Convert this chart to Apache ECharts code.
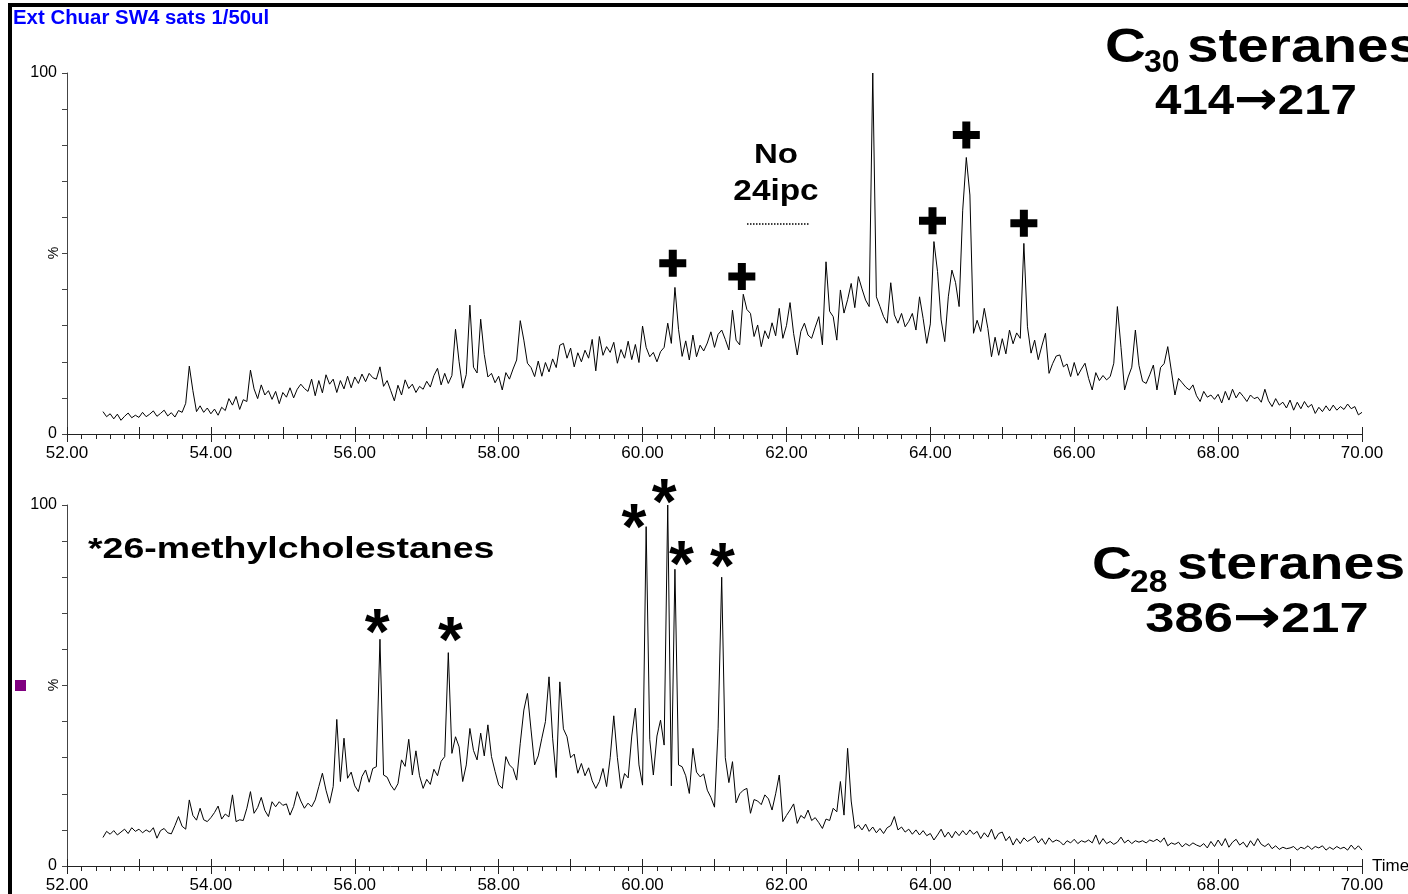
<!DOCTYPE html>
<html>
<head>
<meta charset="utf-8">
<title>Ext Chuar SW4 sats - steranes</title>
<script src="https://cdn.jsdelivr.net/npm/echarts@6/dist/echarts.min.js"></script>
<style>
  html, body { margin: 0; padding: 0; background: #fff; }
  #main { width: 1408px; height: 894px; }
</style>
</head>
<body>
<div id="main"></div>
<script>
// scans every 0.05 min, 52.50 -> 70.00
const timeStart = 52.5;
const timeStep = 0.05;
const timeTicks = [52, 54, 56, 58, 60, 62, 64, 66, 68, 70];
const pctTicks = [0, 100];

// C30 steranes 414->217 (% of base peak)
const c30Values = [
  6.2, 4.8, 5.6, 4.2, 5.5, 3.8, 4.9, 5.8, 4.5, 5.2,
  4.6, 6.0, 4.8, 5.5, 6.4, 4.9, 5.7, 6.6, 5.0, 5.9, 4.7, 6.5, 6.0, 8.5, 18.8, 12.0, 6.2, 7.8, 6.0, 7.2,
  5.6, 6.9, 5.2, 7.4, 6.5, 9.8, 8.0, 10.4, 6.8, 9.5, 9.0, 17.7, 12.5, 9.8, 13.6, 10.8, 12.0, 9.6, 11.8, 8.4,
  11.5, 10.2, 12.8, 10.0, 12.4, 13.8, 12.6, 11.8, 15.2, 10.6, 14.8, 11.4, 16.4, 13.8, 15.2, 11.5, 14.8, 12.5, 16.0, 12.8,
  15.8, 14.0, 16.6, 14.5, 16.8, 15.6, 15.2, 18.6, 13.2, 14.8, 12.0, 9.2, 13.5, 10.8, 15.0, 12.6, 13.8, 11.5, 13.2, 12.4,
  14.6, 13.0, 16.2, 18.2, 13.6, 16.8, 14.0, 16.2, 29.0, 20.0, 12.7, 16.5, 35.7, 18.5, 16.9, 31.8, 22.0, 15.8, 16.8, 14.2,
  16.0, 12.2, 17.0, 15.2, 18.0, 20.5, 31.4, 26.0, 19.6, 18.4, 15.9, 20.2, 16.0, 19.8, 17.2, 20.8, 18.4, 24.6, 25.1, 21.0,
  23.8, 18.6, 22.5, 20.0, 23.2, 21.0, 26.2, 17.5, 27.0, 21.8, 24.2, 22.6, 25.4, 19.6, 23.4, 21.0, 25.7, 20.6, 24.8, 19.8,
  29.9, 24.0, 21.4, 22.6, 20.0, 22.8, 24.0, 30.7, 25.1, 40.6, 29.0, 21.5, 25.8, 20.5, 27.4, 21.4, 24.6, 23.0, 25.2, 28.3,
  24.0, 27.6, 28.8, 26.2, 23.3, 34.3, 26.0, 24.7, 38.7, 34.5, 33.4, 27.0, 30.2, 24.2, 28.6, 26.4, 30.8, 27.2, 34.8, 26.5,
  30.0, 36.4, 27.8, 21.9, 28.4, 30.7, 27.4, 26.5, 29.6, 32.5, 24.7, 47.7, 34.0, 32.5, 26.0, 39.9, 33.5, 37.2, 41.7, 35.0,
  43.6, 40.2, 37.1, 35.3, 100, 38.0, 35.3, 32.5, 30.7, 41.9, 33.0, 30.7, 33.4, 29.7, 31.2, 33.4, 28.8, 38.0, 32.0, 25.1,
  30.5, 53.3, 45.0, 31.6, 25.6, 38.0, 45.4, 42.0, 35.3, 62.0, 76.6, 66.2, 27.9, 31.5, 28.4, 34.8, 29.2, 21.4, 26.8, 21.8,
  26.4, 22.2, 28.8, 25.0, 28.0, 26.5, 52.8, 29.7, 22.4, 26.0, 20.6, 24.4, 27.9, 16.8, 19.5, 21.6, 21.9, 18.6, 19.4, 15.9,
  19.8, 16.2, 18.0, 19.6, 15.4, 12.2, 17.0, 14.8, 16.2, 15.0, 15.9, 19.6, 35.3, 24.0, 12.2, 15.8, 18.5, 28.8, 19.0, 14.6,
  14.0, 16.4, 19.1, 12.2, 18.4, 19.5, 24.2, 17.5, 10.8, 15.4, 14.2, 13.0, 12.2, 13.6, 10.6, 9.0, 11.8, 10.2, 10.8, 9.6,
  11.0, 8.6, 11.8, 9.4, 12.4, 10.0, 11.6, 10.4, 9.0, 10.8, 9.8, 10.2, 8.8, 12.4, 9.2, 7.6, 9.8, 8.0, 8.8, 7.2,
  9.4, 6.6, 8.8, 7.0, 9.0, 7.4, 8.2, 5.7, 7.4, 6.2, 7.8, 6.4, 8.0, 6.6, 7.6, 6.8, 8.3, 7.0, 7.6, 5.3,
  6.0
];

// C28 steranes 386->217 (% of base peak)
const c28Values = [
  7.9, 9.6, 8.8, 9.8, 8.6, 9.4, 10.2, 9.0, 10.6, 9.6,
  10.2, 9.2, 10.0, 9.4, 10.6, 7.7, 9.8, 10.4, 9.2, 8.9, 11.2, 13.7, 11.0, 10.2, 18.3, 14.0, 12.7, 16.0, 12.8, 12.3,
  13.4, 14.8, 16.6, 13.0, 14.4, 13.6, 19.7, 12.3, 12.8, 12.6, 16.0, 20.6, 14.6, 16.2, 19.0, 15.4, 13.7, 17.8, 16.4, 17.8,
  16.8, 17.2, 14.1, 16.5, 20.6, 18.0, 16.0, 17.4, 16.4, 18.3, 22.0, 25.7, 21.0, 17.4, 22.0, 40.6, 23.4, 35.4, 24.3, 26.0,
  22.2, 20.6, 24.8, 26.6, 23.2, 27.0, 27.5, 62.8, 25.2, 24.6, 22.4, 21.0, 22.8, 29.4, 27.6, 35.1, 25.2, 31.9, 25.0, 21.5,
  24.0, 22.6, 26.8, 25.0, 29.0, 30.3, 59.1, 31.2, 35.8, 33.0, 23.4, 28.0, 38.1, 32.0, 29.4, 36.8, 30.5, 39.1, 30.3, 26.2,
  22.5, 21.5, 30.3, 28.0, 27.0, 23.8, 34.0, 43.2, 47.8, 37.7, 28.0, 30.5, 35.4, 40.0, 52.4, 35.4, 24.5, 51.0, 38.0, 35.8,
  30.0, 31.0, 25.7, 28.4, 25.0, 27.2, 23.6, 21.5, 23.4, 27.0, 22.0, 30.0, 41.6, 30.0, 21.5, 25.6, 24.4, 36.0, 43.7, 28.0,
  22.4, 94.0, 35.0, 25.2, 36.0, 40.4, 33.5, 100, 22.2, 82.2, 28.0, 27.5, 25.0, 20.1, 32.6, 26.0, 24.7, 25.5, 21.0, 19.0,
  16.3, 38.0, 80.0, 30.0, 23.1, 28.9, 17.5, 20.0, 21.0, 21.5, 14.6, 18.4, 18.0, 17.0, 19.7, 18.6, 15.5, 20.0, 25.2, 12.3,
  14.0, 15.5, 17.2, 11.8, 14.0, 13.2, 15.5, 12.6, 13.4, 12.0, 10.4, 13.0, 12.6, 16.0, 15.0, 23.4, 14.1, 32.6, 18.0, 10.4,
  11.4, 10.0, 11.6, 9.6, 10.8, 9.2, 10.4, 9.0, 10.6, 11.2, 13.7, 10.0, 10.8, 9.4, 10.2, 8.8, 10.0, 8.6, 9.8, 8.4,
  9.0, 7.2, 8.6, 10.2, 8.0, 9.4, 7.8, 9.6, 8.4, 9.8, 8.6, 10.0, 8.8, 9.6, 7.6, 9.2, 8.0, 10.2, 7.4, 9.0,
  9.4, 7.0, 8.2, 5.8, 7.6, 6.2, 7.8, 6.8, 7.4, 8.2, 6.4, 7.6, 6.0, 7.8, 6.6, 7.2, 6.8, 5.8, 7.0, 6.4,
  7.4, 6.2, 7.0, 6.6, 7.2, 6.4, 8.6, 6.0, 7.6, 6.2, 6.8, 6.0, 6.6, 8.0, 6.4, 7.2, 6.2, 7.0, 6.6, 7.0,
  6.4, 7.2, 6.8, 7.4, 6.6, 7.8, 5.6, 6.4, 6.0, 6.6, 5.3, 6.2, 5.6, 6.4, 5.8, 5.4, 6.2, 5.0, 6.8, 5.4,
  7.2, 5.6, 7.6, 5.2, 6.6, 7.4, 5.8, 6.6, 5.2, 7.0, 5.6, 7.6, 6.0, 5.4, 6.2, 4.8, 5.6, 4.6, 5.2, 4.8,
  5.0, 5.4, 4.4, 5.2, 4.8, 5.6, 4.6, 5.4, 5.0, 5.6, 4.4, 5.2, 4.6, 5.4, 4.8, 5.2, 4.4, 5.8, 4.6, 5.6,
  4.4
];

// annotation anchors [time, %]
const plusMarks = [[60.42, 47.3], [61.38, 43.6], [64.03, 59.1], [64.50, 82.8], [65.30, 58.4]];
const starMarks = [[56.31, 67.3], [57.33, 65.2], [59.88, 96.4], [60.30, 103.3], [60.54, 86.3], [61.11, 85.5]];

const FONT = '"Liberation Sans", Arial, sans-serif';
const toPairs = vals => vals.map((v, i) => [+(timeStart + i * timeStep).toFixed(2), v]);

const chart = echarts.init(document.getElementById('main'));

function timeAxis(gridIndex, withName) {
  return {
    type: 'value', gridIndex: gridIndex, min: 52, max: 70, interval: 2,
    name: withName ? 'Time' : '', nameLocation: 'end', nameGap: 10,
    nameTextStyle: { color: '#000', fontSize: 17, fontFamily: FONT },
    axisLine: { onZero: false, lineStyle: { color: '#222', width: 1 } },
    axisTick: { length: 8, lineStyle: { color: '#222' } },
    minorTick: { show: true, splitNumber: 10, length: 5, lineStyle: { color: '#222' } },
    splitLine: { show: false },
    axisLabel: {
      margin: 11, color: '#000', fontSize: 17, fontFamily: FONT,
      formatter: v => timeTicks.indexOf(v) >= 0 ? v.toFixed(2) : ''
    }
  };
}
function oddTicks(gridIndex) {
  return {
    type: 'value', gridIndex: gridIndex, min: 52, max: 70, interval: 1,
    axisLine: { show: false }, axisLabel: { show: false }, splitLine: { show: false },
    axisTick: { length: 7, lineStyle: { color: '#222' } }
  };
}
function pctAxis(gridIndex) {
  return {
    type: 'value', gridIndex: gridIndex, min: 0, max: 100, interval: 50,
    axisLine: { show: true, lineStyle: { color: '#444', width: 1 } },
    axisTick: { show: true, length: 5, lineStyle: { color: '#444' } },
    minorTick: { show: true, splitNumber: 5, length: 5, lineStyle: { color: '#444' } },
    splitLine: { show: false },
    axisLabel: {
      margin: 10, color: '#000', fontSize: 16, fontFamily: FONT,
      formatter: v => pctTicks.indexOf(v) >= 0 ? String(v) : ''
    }
  };
}

chart.setOption({
  animation: false,
  backgroundColor: '#fff',
  grid: [
    { left: 67, top: 73, width: 1295, height: 361, outerBoundsMode: 'none' },
    { left: 67, top: 505, width: 1295, height: 361, outerBoundsMode: 'none' }
  ],
  xAxis: [timeAxis(0, false), timeAxis(1, true), oddTicks(0), oddTicks(1)],
  yAxis: [pctAxis(0), pctAxis(1)],
  series: [
    {
      name: 'C30 steranes', type: 'line', xAxisIndex: 0, yAxisIndex: 0,
      data: toPairs(c30Values), showSymbol: false, symbol: 'none',
      lineStyle: { color: '#000', width: 1 }
    },
    {
      name: 'C28 steranes', type: 'line', xAxisIndex: 1, yAxisIndex: 1,
      data: toPairs(c28Values), showSymbol: false, symbol: 'none',
      lineStyle: { color: '#000', width: 1 }
    }
  ]
});

function txt(text, x, y, size, opts) {
  opts = opts || {};
  return {
    type: 'text', x: x, y: y, scaleX: opts.sx || 1, rotation: opts.rot || 0, z: 100,
    style: {
      text: text, fill: opts.color || '#000', fontFamily: FONT,
      fontSize: size, fontWeight: opts.weight || 'bold',
      textAlign: opts.align || 'left', align: opts.align || 'left',
      textVerticalAlign: 'middle', verticalAlign: 'middle',
      rich: opts.rich
    }
  };
}

// "414→217" style lines: digits in Liberation Sans, heavier arrow from DejaVu
function transition(text, x, y, sx) {
  const parts = text.split('\u2192');
  return txt('{d|' + parts[0] + '}{a|\u2192}{d|' + parts[1] + '}', x, y, 42, {
    sx: sx, align: 'center',
    rich: {
      d: { fontFamily: FONT, fontWeight: 'bold', fontSize: 42, fill: '#000' },
      a: { fontFamily: '"DejaVu Sans", sans-serif', fontWeight: 'bold', fontSize: 46, fill: '#000' }
    }
  });
}

const graphics = [
  { type: 'rect', shape: { x: 8, y: 3, width: 4, height: 891 }, style: { fill: '#000' } },
  { type: 'rect', shape: { x: 8, y: 3, width: 1400, height: 4 }, style: { fill: '#000' } },
  { type: 'rect', shape: { x: 15, y: 680, width: 11, height: 11 }, style: { fill: '#800080' } },
  txt('Ext Chuar SW4 sats 1/50ul', 13, 18, 20, { color: '#0000ff', sx: 1.02 }),
  txt('%', 54, 253, 14, { weight: 'normal', align: 'center', rot: Math.PI / 2 }),
  txt('%', 54, 685, 14, { weight: 'normal', align: 'center', rot: Math.PI / 2 }),
  // C30 label
  txt('C', 1105, 48.4, 48, { sx: 1.18 }),
  txt('30', 1144, 63.5, 32, { sx: 1.0 }),
  txt('steranes', 1187, 48.4, 48, { sx: 1.18 }),
  transition('414\u2192217', 1256, 102.4, 1.13),
  // C28 label
  txt('C', 1092, 566.5, 47, { sx: 1.18 }),
  txt('28', 1130, 583.6, 32, { sx: 1.05 }),
  txt('steranes', 1177, 566.5, 47, { sx: 1.18 }),
  transition('386\u2192217', 1257, 620.5, 1.25),
  txt('No', 776, 155.3, 28, { sx: 1.18, align: 'center' }),
  txt('24ipc', 776, 191.7, 29, { sx: 1.15, align: 'center' }),
  {
    type: 'line', shape: { x1: 747, y1: 224, x2: 809, y2: 224 },
    style: { stroke: '#000', lineWidth: 1.5, lineDash: [1.5, 1.5] }
  },
  txt('*26-methylcholestanes', 88, 550, 30, { sx: 1.25 })
];

plusMarks.forEach(function (m) {
  const p = chart.convertToPixel({ gridIndex: 0 }, m);
  const a = 13.5, b = 4;
  graphics.push({
    type: 'polygon', z: 100,
    shape: {
      points: [
        [p[0] - b, p[1] - a], [p[0] + b, p[1] - a], [p[0] + b, p[1] - b], [p[0] + a, p[1] - b],
        [p[0] + a, p[1] + b], [p[0] + b, p[1] + b], [p[0] + b, p[1] + a], [p[0] - b, p[1] + a],
        [p[0] - b, p[1] + b], [p[0] - a, p[1] + b], [p[0] - a, p[1] - b], [p[0] - b, p[1] - b]
      ]
    },
    style: { fill: '#000' }
  });
});

starMarks.forEach(function (m) {
  const p = chart.convertToPixel({ gridIndex: 1 }, m);
  graphics.push(txt('*', p[0], p[1] + 13.5, 64, { align: 'center' }));
});

chart.setOption({ graphic: graphics });
</script>
</body>
</html>
